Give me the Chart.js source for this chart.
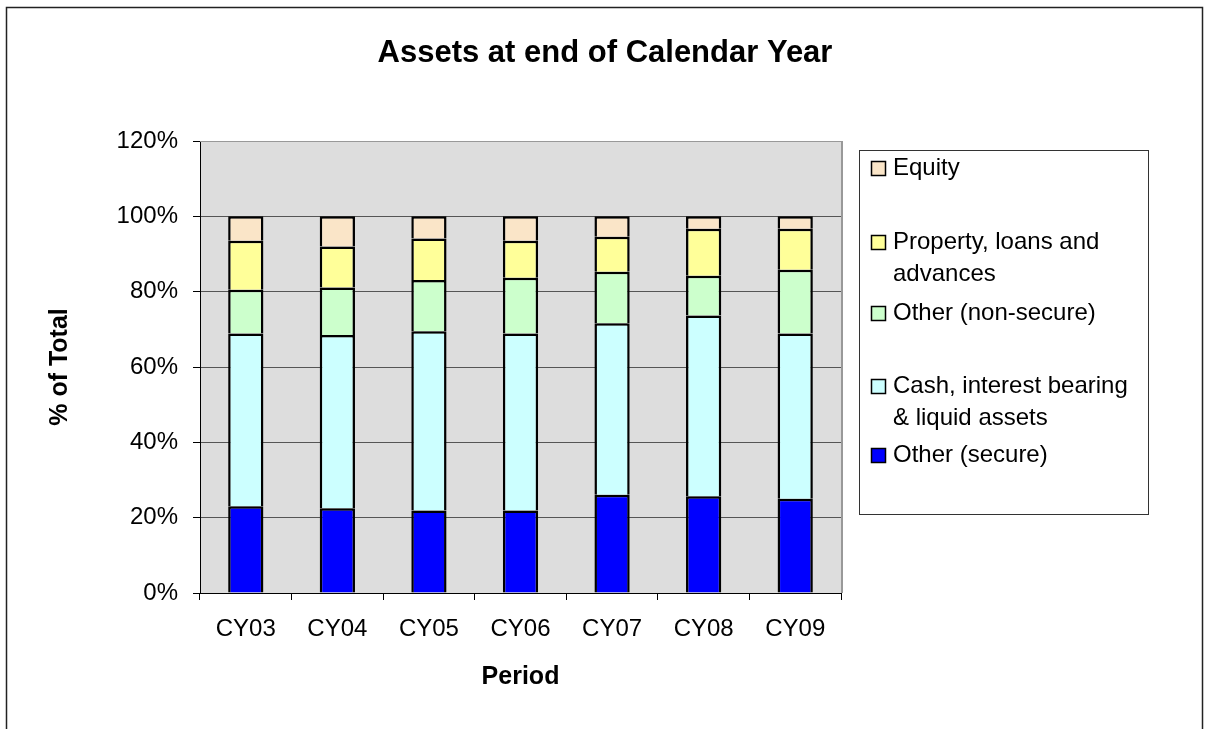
<!DOCTYPE html>
<html>
<head>
<meta charset="utf-8">
<script src="https://cdn.jsdelivr.net/npm/chart.js@4/dist/chart.umd.min.js"></script>
<style>
  html, body { margin: 0; padding: 0; background: #fff; }
  #wrap { width: 1208px; height: 729px; }
</style>
</head>
<body>
<div id="wrap"><canvas id="assets-chart" width="1208" height="729"></canvas></div>
<script>
// chart data (percent of total)
var categories = ['CY03', 'CY04', 'CY05', 'CY06', 'CY07', 'CY08', 'CY09'];
var otherSecure = [23.0, 22.5, 21.9, 21.9, 26.1, 25.7, 25.0];
var cashLiquid = [45.9, 46.0, 47.6, 47.0, 45.5, 48.0, 43.9];
var otherNonSecure = [11.6, 12.6, 13.6, 14.8, 13.7, 10.5, 16.9];
var propertyLoans = [13.0, 10.9, 11.0, 9.8, 9.3, 12.5, 10.9];
var equity = [6.5, 8.0, 5.9, 6.5, 5.4, 3.3, 3.3];

// series names, split where the legend wraps them
var seriesNames = [
    ['Other (secure)'],
    ['Cash, interest bearing', '& liquid assets'],
    ['Other (non-secure)'],
    ['Property, loans and', 'advances'],
    ['Equity']
];
var seriesColors = ['#0000FF', '#CCFFFF', '#CCFFCC', '#FFFF99', '#FAE5C8'];
var seriesValues = [otherSecure, cashLiquid, otherNonSecure, propertyLoans, equity];
var chartTitle = 'Assets at end of Calendar Year';

var FONT = '"Liberation Sans", Arial, sans-serif';

// white page, outer frame, title and grey plot background
var backdrop = {
    id: 'backdrop',
    beforeDraw: function(chart) {
        var ctx = chart.ctx, a = chart.chartArea;
        ctx.save();
        ctx.fillStyle = '#fff';
        ctx.fillRect(0, 0, chart.width, chart.height);
        ctx.strokeStyle = '#222';
        ctx.lineWidth = 1.5;
        ctx.strokeRect(6.5, 7.5, 1196, 760);
        ctx.fillStyle = '#DDDDDD';
        ctx.fillRect(a.left, a.top, a.right - a.left, a.bottom - a.top);
        // title centred on the whole frame, not on the plot
        ctx.fillStyle = '#000';
        ctx.font = 'bold 31px ' + FONT;
        ctx.textAlign = 'center';
        ctx.textBaseline = 'alphabetic';
        ctx.fillText(chartTitle, 605, 62);
        ctx.restore();
    },
    afterDatasetsDraw: function(chart) {
        // grey top and right edges of the plot area
        var ctx = chart.ctx, a = chart.chartArea;
        ctx.save();
        ctx.strokeStyle = '#999';
        ctx.lineWidth = 1;
        ctx.beginPath();
        ctx.moveTo(a.left, a.top + 0.5);
        ctx.lineTo(a.right + 0.5, a.top + 0.5);
        ctx.stroke();
        ctx.lineWidth = 2;
        ctx.beginPath();
        ctx.moveTo(a.right + 1, a.top);
        ctx.lineTo(a.right + 1, a.bottom);
        ctx.stroke();
        ctx.restore();
    }
};

// boxed legend on the right, newest series on top like the original
var boxLegend = {
    id: 'boxLegend',
    afterDraw: function(chart) {
        var ctx = chart.ctx;
        var box = {x: 859.5, y: 150.5, w: 289, h: 364};
        var rowY = [18, 92, 163, 236, 305]; // first-line centres inside the box
        ctx.save();
        ctx.strokeStyle = '#333';
        ctx.lineWidth = 1;
        ctx.strokeRect(box.x, box.y, box.w, box.h);
        ctx.font = '24px ' + FONT;
        ctx.textBaseline = 'middle';
        ctx.textAlign = 'left';
        for (var i = 0; i < seriesNames.length; i++) {
            var s = seriesNames.length - 1 - i;
            var cy = box.y + rowY[i];
            ctx.fillStyle = seriesColors[s];
            ctx.fillRect(871.5, cy - 7, 14, 14);
            ctx.lineWidth = 1.5;
            ctx.strokeStyle = '#000';
            ctx.strokeRect(871.5, cy - 7, 14, 14);
            ctx.fillStyle = '#000';
            for (var l = 0; l < seriesNames[s].length; l++) {
                ctx.fillText(seriesNames[s][l], 893, cy + l * 32);
            }
        }
        ctx.restore();
    }
};

var datasets = seriesValues.map(function(vals, i) {
    return {
        label: seriesNames[i].join(' '),
        data: vals,
        backgroundColor: seriesColors[i],
        borderColor: '#000',
        borderWidth: 2.5,
        borderSkipped: 'start',
        barPercentage: 0.385,
        categoryPercentage: 1.0
    };
});

var ctx = document.getElementById('assets-chart').getContext('2d');
var myChart = new Chart(ctx, {
    type: 'bar',
    data: {
        labels: categories,
        datasets: datasets
    },
    options: {
        responsive: false,
        animation: false,
        devicePixelRatio: 1,
        layout: {
            padding: {left: 40, right: 367, top: 141, bottom: 30}
        },
        plugins: {
            legend: {display: false},
            tooltip: {enabled: false},
            title: {display: false}
        },
        scales: {
            x: {
                stacked: true,
                grid: {
                    drawOnChartArea: false,
                    drawTicks: true,
                    tickLength: 7,
                    tickColor: '#000'
                },
                border: {color: '#000', width: 1},
                ticks: {
                    color: '#000',
                    font: {family: FONT, size: 24},
                    padding: 15,
                    maxRotation: 0
                },
                title: {
                    display: true,
                    text: 'Period',
                    color: '#000',
                    font: {family: FONT, size: 25, weight: 'bold'},
                    padding: {top: 0, bottom: 7}
                },
                afterFit: function(scale) { scale.height = 106; }
            },
            y: {
                stacked: true,
                min: 0,
                max: 120,
                grid: {
                    color: function(c) { return c.tick && c.tick.value === 120 ? '#999' : '#555'; },
                    tickLength: 7,
                    tickColor: '#000'
                },
                border: {color: '#000', width: 1},
                ticks: {
                    stepSize: 20,
                    color: '#000',
                    font: {family: FONT, size: 24},
                    padding: 15,
                    callback: function(v) { return v + '%'; }
                },
                title: {
                    display: true,
                    text: '% of Total',
                    color: '#000',
                    font: {family: FONT, size: 25, weight: 'bold'},
                    padding: {top: 5, bottom: 0}
                },
                afterFit: function(scale) { scale.width = 160; }
            }
        }
    },
    plugins: [backdrop, boxLegend]
});
</script>
</body>
</html>
